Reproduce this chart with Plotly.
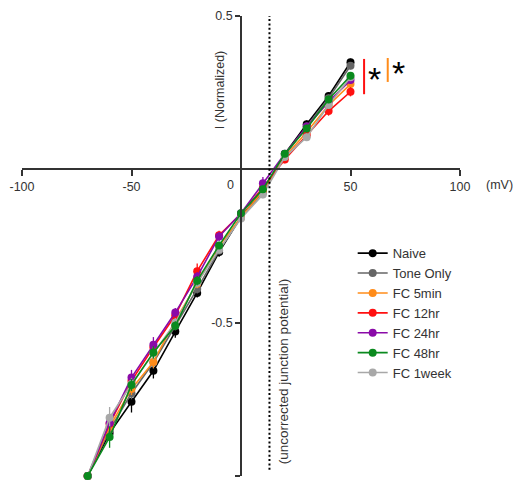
import plotly.graph_objects as go

# ---- data ----
voltage_mV = [-70, -60, -50, -40, -30, -20, -10, 0, 10, 20, 30, 40, 50]

series_names = ["Naive", "Tone Only", "FC 5min", "FC 12hr", "FC 24hr", "FC 48hr", "FC 1week"]

naive      = [-1.0, -0.860, -0.758, -0.657, -0.529, -0.403, -0.270, -0.155, -0.070, 0.050, 0.147, 0.239, 0.349]
tone_only  = [-1.0, -0.850, -0.730, -0.630, -0.510, -0.390, -0.265, -0.155, -0.075, 0.045, 0.140, 0.232, 0.338]
fc_5min    = [-1.0, -0.840, -0.716, -0.628, -0.493, -0.373, -0.250, -0.157, -0.070, 0.040, 0.122, 0.209, 0.278]
fc_12hr    = [-1.0, -0.830, -0.690, -0.580, -0.476, -0.332, -0.215, -0.145, -0.060, 0.032, 0.111, 0.190, 0.253]
fc_24hr    = [-1.0, -0.827, -0.679, -0.572, -0.467, -0.350, -0.219, -0.143, -0.045, 0.051, 0.140, 0.220, 0.291]
fc_48hr    = [-1.0, -0.873, -0.703, -0.597, -0.510, -0.363, -0.248, -0.143, -0.065, 0.051, 0.133, 0.228, 0.305]
fc_1week   = [-1.0, -0.810, -0.700, -0.600, -0.500, -0.370, -0.262, -0.160, -0.082, 0.040, 0.105, 0.210, 0.300]

naive_err     = [0, 0.020, 0.035, 0.025, 0.020, 0.015, 0.015, 0.010, 0.012, 0.012, 0.012, 0.012, 0.012]
tone_err      = [0, 0.020, 0.020, 0.020, 0.015, 0.015, 0.012, 0.010, 0.012, 0.012, 0.012, 0.012, 0.012]
fc_5min_err   = [0, 0.020, 0.020, 0.020, 0.015, 0.015, 0.012, 0.010, 0.012, 0.012, 0.012, 0.015, 0.015]
fc_12hr_err   = [0, 0.020, 0.020, 0.020, 0.015, 0.025, 0.015, 0.010, 0.012, 0.012, 0.012, 0.015, 0.015]
fc_24hr_err   = [0, 0.025, 0.025, 0.025, 0.015, 0.015, 0.015, 0.010, 0.020, 0.012, 0.012, 0.012, 0.012]
fc_48hr_err   = [0, 0.035, 0.020, 0.020, 0.015, 0.015, 0.012, 0.010, 0.012, 0.012, 0.012, 0.012, 0.012]
fc_1week_err  = [0, 0.035, 0.020, 0.020, 0.015, 0.015, 0.012, 0.010, 0.012, 0.012, 0.012, 0.012, 0.012]

series_values = [naive, tone_only, fc_5min, fc_12hr, fc_24hr, fc_48hr, fc_1week]
series_errors = [naive_err, tone_err, fc_5min_err, fc_12hr_err, fc_24hr_err, fc_48hr_err, fc_1week_err]
series_colors = ["#000000", "#666666", "#FF8C1A", "#FF1010", "#8A0AA8", "#0A8A1E", "#A8A8A8"]

x_tick_vals = [-100, -50, 0, 50, 100]
x_tick_text = ["-100", "-50", "", "50", "100"]
y_tick_vals = [-1.0, -0.5, 0.5]
y_tick_text = ["-1.0", "-0.5", "0.5"]

junction_potential_mV = 13

# significance bars: (x, y_low, y_high, color) and asterisk positions
sig_bars = [(56.2, 0.245, 0.360, "#FF1010"), (67.0, 0.285, 0.363, "#FF8C1A")]
sig_stars = [(60.8, 0.293), (72.0, 0.315)]

FONT = "Liberation Sans, Arial, sans-serif"
AXC = "#333333"

fig = go.Figure()

draw_order = [0, 1, 2, 3, 4, 6, 5]
for i in draw_order:
    fig.add_trace(go.Scatter(
        x=voltage_mV, y=series_values[i], name=series_names[i],
        mode="lines+markers",
        line=dict(color=series_colors[i], width=1.6),
        marker=dict(color=series_colors[i], size=8),
        error_y=dict(type="data", array=series_errors[i], color=series_colors[i],
                     thickness=1.3, width=0),
        cliponaxis=False,
        legendrank=i + 1,
    ))

shapes = [
    dict(type="line", xref="x", yref="y", x0=junction_potential_mV, x1=junction_potential_mV,
         y0=-0.98, y1=0.5, line=dict(color="#000000", width=2, dash="2px,2.4px")),
]
for (bx, y0, y1, c) in sig_bars:
    shapes.append(dict(type="line", xref="x", yref="y", x0=bx, x1=bx, y0=y0, y1=y1,
                       line=dict(color=c, width=2)))

annotations = [
    dict(x=0, y=0.258, xref="x", yref="y", text="I (Normalized)", textangle=-90,
         showarrow=False, xshift=-21, font=dict(family=FONT, size=12.5, color=AXC)),
    dict(x=100, y=0, xref="x", yref="y", text="(mV)", showarrow=False,
         xshift=39, yshift=-16, font=dict(family=FONT, size=12.5, color=AXC)),
    dict(x=0, y=0, xref="x", yref="y", text="0", showarrow=False,
         xshift=-11, yshift=-16, font=dict(family=FONT, size=12.5, color=AXC)),
    dict(x=junction_potential_mV, y=-0.66, xref="x", yref="y",
         text="(uncorrected junction potential)", textangle=-90, showarrow=False,
         xshift=14, font=dict(family=FONT, size=13.5, color=AXC)),
]
for (sx, sy) in sig_stars:
    annotations.append(dict(x=sx, y=sy, xref="x", yref="y", text="*", showarrow=False,
                            font=dict(family=FONT, size=34, color="#000000")))

fig.update_layout(
    width=515, height=483,
    margin=dict(l=22, r=55, t=16, b=7),
    paper_bgcolor="white", plot_bgcolor="white",
    font=dict(family=FONT, size=12.5, color=AXC),
    shapes=shapes, annotations=annotations,
    showlegend=True,
    legend=dict(x=0.755, y=0.517, xanchor="left", yanchor="top",
                font=dict(family=FONT, size=13, color=AXC),
                bgcolor="rgba(0,0,0,0)", tracegroupgap=0),
    xaxis=dict(range=[-100, 100], anchor="free", position=2 / 3,
               showline=True, linecolor=AXC, linewidth=1.5,
               ticks="outside", ticklen=6, tickwidth=1.5, tickcolor=AXC,
               tickvals=x_tick_vals, ticktext=x_tick_text,
               showgrid=False, zeroline=False),
    yaxis=dict(range=[-1.0, 0.5], anchor="free", position=0.5,
               showline=True, linecolor=AXC, linewidth=1.5,
               ticks="outside", ticklen=5, tickwidth=1.5, tickcolor=AXC,
               tickvals=y_tick_vals, ticktext=y_tick_text,
               showgrid=False, zeroline=False),
)

# remove the page's default body margin so the 515x483 figure fills the window exactly
fig.write_html(
    "out.html",
    config={"displayModeBar": False},
    post_script="document.body.style.margin='0';document.body.style.overflow='hidden';",
)
